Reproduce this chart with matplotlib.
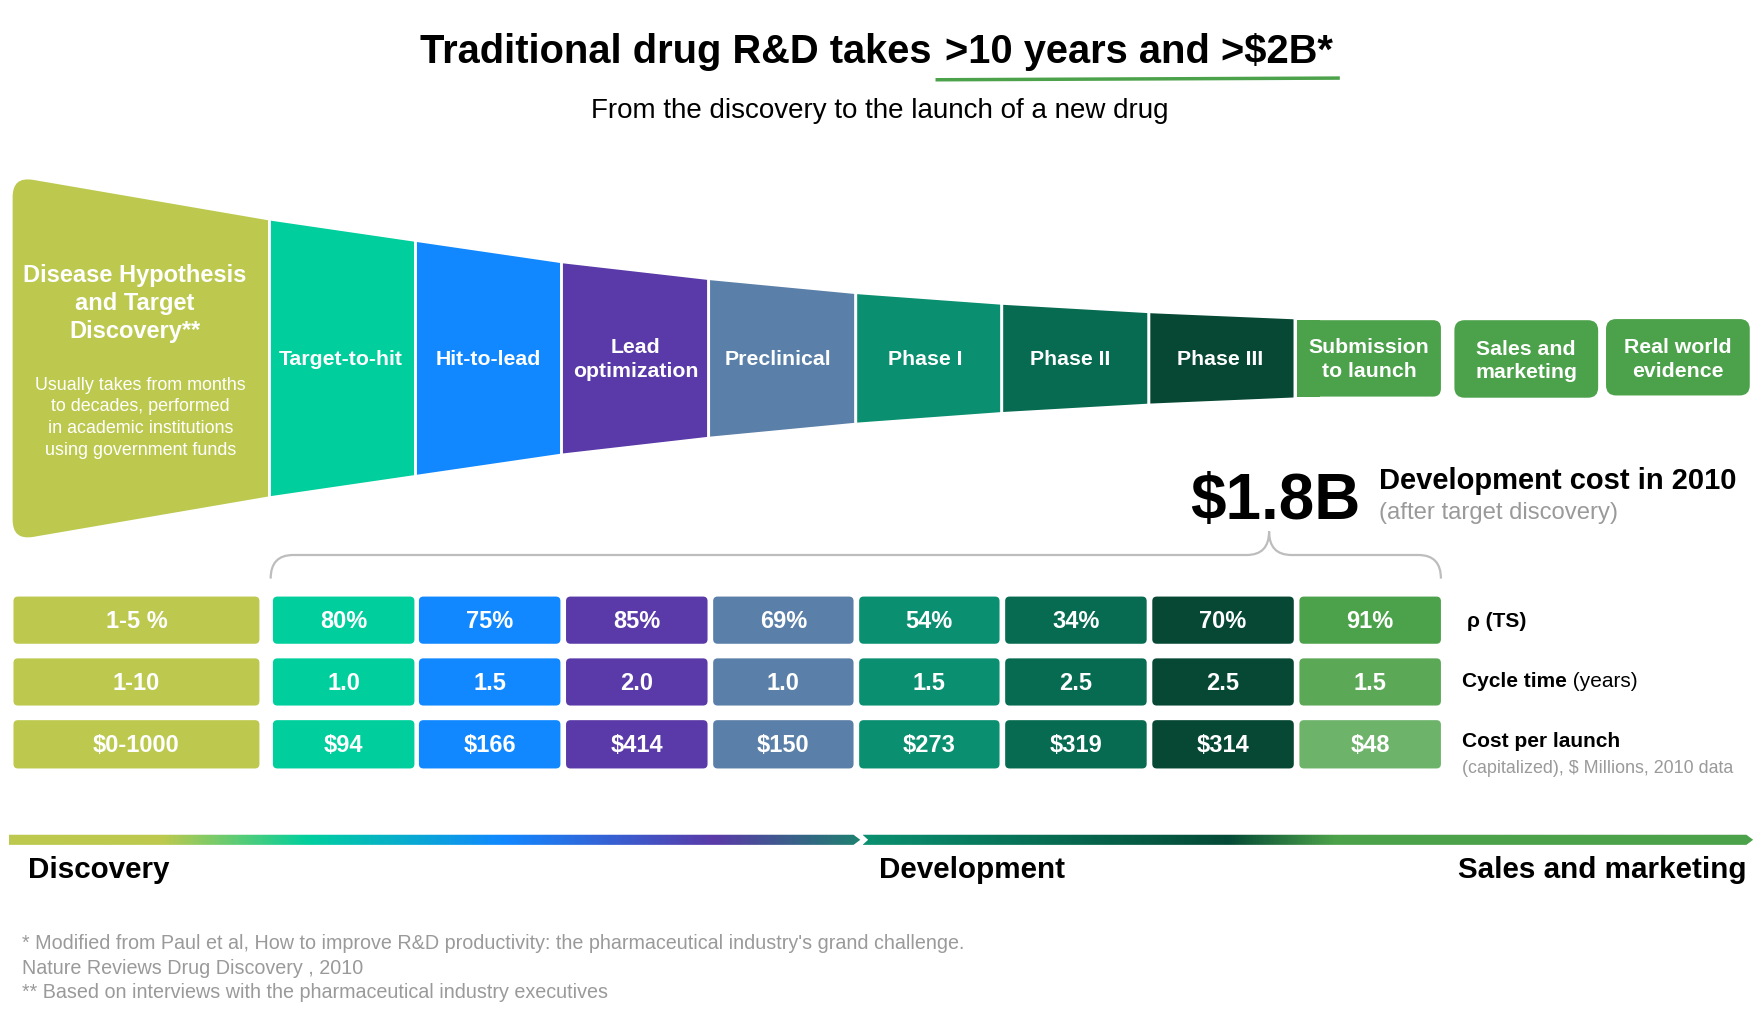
import numpy as np
import matplotlib.pyplot as plt
from matplotlib.patches import Polygon, FancyBboxPatch, PathPatch, Rectangle
from matplotlib.path import Path
from matplotlib.colors import LinearSegmentedColormap

plt.rcParams['font.family'] = ['Liberation Sans', 'DejaVu Sans']

# ---- data ----
stages = ['Disease Hypothesis\nand Target\nDiscovery**', 'Target-to-hit', 'Hit-to-lead',
          'Lead\noptimization', 'Preclinical', 'Phase I', 'Phase II', 'Phase III',
          'Submission\nto launch']
extra_stages = ['Sales and\nmarketing', 'Real world\nevidence']
discovery_note = 'Usually takes from months\nto decades, performed\nin academic institutions\nusing government funds'

p_ts = ['1-5 %', '80%', '75%', '85%', '69%', '54%', '34%', '70%', '91%']
cycle_time = ['1-10', '1.0', '1.5', '2.0', '1.0', '1.5', '2.5', '2.5', '1.5']
cost_per_launch = ['$0-1000', '$94', '$166', '$414', '$150', '$273', '$319', '$314', '$48']
rows = [p_ts, cycle_time, cost_per_launch]

total_cost = '$1.8B'

stage_colors = ['#BCC94E', '#00CF9D', '#1188FF', '#5A3AA8', '#5A7FA8',
                '#0A9070', '#066B50', '#064834', '#4CA24A']
last_col_colors = ['#4CA24A', '#5BA857', '#6DB46A']

# ---- canvas (coords in px of a 1568x907 layout) ----
W, H = 1568, 907
fig = plt.figure(figsize=(17.61, 10.19), dpi=100)
ax = fig.add_axes([0, 0, 1, 1])
ax.axis('off')

# title
ax.text(829, 46, 'Traditional drug R&D takes', ha='right', va='center',
        fontsize=28.7, fontweight='bold')
ax.text(841, 46, '>10 years and >$2B*', ha='left', va='center',
        fontsize=28.7, fontweight='bold')
ax.plot([833, 1193], [71, 69.5], color='#4CA24A', lw=2.5, solid_capstyle='butt')
ax.text(783, 99, 'From the discovery to the launch of a new drug', ha='center',
        va='center', fontsize=20)

# funnel
edge_x = [10, 240, 370, 500, 631, 762, 892, 1023, 1153]
half_h = [163.5, 124, 105, 86, 71, 58.5, 49, 41.5, 36]
cy = 319

# first piece with rounded left corners
x0, x1 = edge_x[0], edge_x[1]
t0, b0 = cy - half_h[0], cy + half_h[0]
t1, b1 = cy - half_h[1], cy + half_h[1]
r = 20
slope_t = (t1 - t0) / (x1 - x0)
slope_b = (b1 - b0) / (x1 - x0)
verts = [(x1, t1), (x0 + r, t0 + slope_t * r), (x0, t0), (x0, t0 + r),
         (x0, b0 - r), (x0, b0), (x0 + r, b0 + slope_b * r), (x1, b1), (x1, t1)]
codes = [Path.MOVETO, Path.LINETO, Path.CURVE3, Path.CURVE3, Path.LINETO,
         Path.CURVE3, Path.CURVE3, Path.LINETO, Path.CLOSEPOLY]
ax.add_patch(PathPatch(Path(verts, codes), facecolor=stage_colors[0],
                       edgecolor='white', lw=2))

for i in range(1, len(edge_x) - 1):
    xa, xb = edge_x[i], edge_x[i + 1]
    ha_, hb_ = half_h[i], half_h[i + 1]
    ax.add_patch(Polygon([(xa, cy - ha_), (xb, cy - hb_), (xb, cy + hb_), (xa, cy + ha_)],
                         closed=True, facecolor=stage_colors[i], edgecolor='white', lw=2))

# submission box (flat left side)
sub_x0, sub_x1, sub_y0, sub_y1 = 1155, 1283, 285, 353
ax.add_patch(FancyBboxPatch((sub_x0, sub_y0), sub_x1 - sub_x0, sub_y1 - sub_y0,
                            boxstyle='round,pad=0,rounding_size=7',
                            facecolor=stage_colors[8], edgecolor='none'))
ax.add_patch(Rectangle((sub_x0, sub_y0), 20, sub_y1 - sub_y0,
                       facecolor=stage_colors[8], edgecolor='none'))

extra_boxes = [(1295, 1423, 285, 354), (1430, 1558, 284, 352)]
for (ex0, ex1, ey0, ey1), lab in zip(extra_boxes, extra_stages):
    ax.add_patch(FancyBboxPatch((ex0, ey0), ex1 - ex0, ey1 - ey0,
                                boxstyle='round,pad=0,rounding_size=9',
                                facecolor='#4CA24A', edgecolor='none'))
    ax.text((ex0 + ex1) / 2, (ey0 + ey1) / 2 + 2, lab, ha='center', va='center',
            color='white', fontsize=15.3, fontweight='bold', linespacing=1.3)

# funnel labels
ax.text(120, 270, stages[0], ha='center', va='center', color='white',
        fontsize=17, fontweight='bold', linespacing=1.26)
ax.text(125, 372, discovery_note, ha='center', va='center', color='white',
        fontsize=12.9, linespacing=1.38)
stage_cx = [303, 435, 566, 693, 824, 953, 1086, 1219]
for i in range(1, len(stages)):
    ax.text(stage_cx[i - 1], cy + 1, stages[i], ha='center', va='center',
            color='white', fontsize=15.3, fontweight='bold', linespacing=1.3)

# development cost
ax.text(1060, 462, total_cost, ha='left', va='baseline', fontsize=46,
        fontweight='bold')
ax.text(1228, 435, 'Development cost in 2010', ha='left', va='baseline',
        fontsize=21, fontweight='bold')
ax.text(1228, 462, '(after target discovery)', ha='left', va='baseline',
        fontsize=17.2, color='#9A9A9A')

# brace
bl, br, tip, by, bdrop, btip = 241, 1283, 1130, 494, 515, 473
bverts = [(bl, bdrop), (bl, by), (bl + 20, by), (tip - 20, by), (tip, by), (tip, btip),
          (tip, by), (tip + 20, by), (br - 20, by), (br, by), (br, bdrop)]
bcodes = [Path.MOVETO, Path.CURVE3, Path.CURVE3, Path.LINETO, Path.CURVE3, Path.CURVE3,
          Path.CURVE3, Path.CURVE3, Path.LINETO, Path.CURVE3, Path.CURVE3]
ax.add_patch(PathPatch(Path(bverts, bcodes), facecolor='none', edgecolor='#BDBDBD', lw=1.6))

# table
col_x0 = [12, 243, 373, 504, 635, 765, 895, 1026, 1157]
col_x1 = [231, 369, 499, 630, 760, 890, 1021, 1152, 1283]
row_y = [(531, 573), (586, 628), (641, 684)]
for ri, vals in enumerate(rows):
    ya, yb = row_y[ri]
    for ci, v in enumerate(vals):
        c = stage_colors[ci] if ci < len(vals) - 1 else last_col_colors[ri]
        ax.add_patch(FancyBboxPatch((col_x0[ci], ya), col_x1[ci] - col_x0[ci], yb - ya,
                                    boxstyle='round,pad=0,rounding_size=4',
                                    facecolor=c, edgecolor='none'))
        ax.text((col_x0[ci] + col_x1[ci]) / 2, (ya + yb) / 2 + 1, v, ha='center',
                va='center', color='white', fontsize=17, fontweight='bold')

ax.text(1306, 553, 'ρ (TS)', ha='left', va='center', fontsize=15, fontweight='bold')
t_cycle = ax.text(1302, 607, 'Cycle time', ha='left', va='center', fontsize=15,
                  fontweight='bold')
ax.annotate(' (years)', xy=(1, 0), xycoords=t_cycle, ha='left', va='bottom',
            fontsize=15)
ax.text(1302, 660, 'Cost per launch', ha='left', va='center', fontsize=15,
        fontweight='bold')
ax.text(1302, 684, '(capitalized), $ Millions, 2010 data', ha='left', va='center',
        fontsize=12.9, color='#9A9A9A')

# bottom gradient arrows
disc_cmap = LinearSegmentedColormap.from_list('disc', [
    (0.0, '#BCC94E'), (0.18, '#BCC94E'), (0.35, '#00CF9D'), (0.58, '#1188FF'),
    (0.83, '#5A3AA8'), (1.0, '#1E8070')])
dev_cmap = LinearSegmentedColormap.from_list('dev', [
    (0.0, '#0A9070'), (0.41, '#054A36'), (0.53, '#4CA24A'), (1.0, '#4CA24A')])
grad = np.linspace(0, 1, 512).reshape(1, -1)

bar_t, bar_b = 743, 752
bar_m = (bar_t + bar_b) / 2
disc_shape = Polygon([(8, bar_t), (760, bar_t), (766, bar_m), (760, bar_b), (8, bar_b)],
                     closed=True, facecolor='none', edgecolor='none')
dev_shape = Polygon([(768, bar_t), (1555, bar_t), (1561, bar_m), (1555, bar_b),
                     (768, bar_b), (773, bar_m)],
                    closed=True, facecolor='none', edgecolor='none')
ax.add_patch(disc_shape)
ax.add_patch(dev_shape)
im1 = ax.imshow(grad, cmap=disc_cmap, extent=(8, 766, bar_b, bar_t), aspect='auto')
im1.set_clip_path(disc_shape)
im2 = ax.imshow(grad, cmap=dev_cmap, extent=(768, 1561, bar_b, bar_t), aspect='auto')
im2.set_clip_path(dev_shape)

ax.text(25, 774, 'Discovery', ha='left', va='center', fontsize=21.3, fontweight='bold')
ax.text(783, 774, 'Development', ha='left', va='center', fontsize=21.3, fontweight='bold')
ax.text(1555, 774, 'Sales and marketing', ha='right', va='center', fontsize=21.3,
        fontweight='bold')

# footnotes
notes = ["* Modified from Paul et al, How to improve R&D productivity: the pharmaceutical industry's grand challenge.",
         'Nature Reviews Drug Discovery , 2010',
         '** Based on interviews with the pharmaceutical industry executives']
for n, y in zip(notes, [840, 862, 883]):
    ax.text(20, y, n, ha='left', va='center', fontsize=14.2, color='#9A9A9A')

ax.set_xlim(0, W)
ax.set_ylim(H, 0)
fig.savefig('out.png', dpi=100, facecolor='white')
